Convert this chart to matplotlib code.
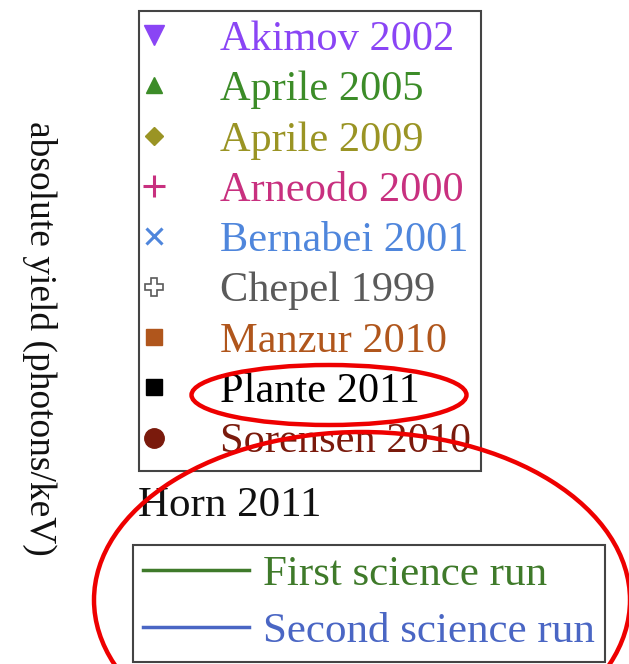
import matplotlib
matplotlib.use("Agg")
import matplotlib.pyplot as plt
from matplotlib.lines import Line2D
from matplotlib.patches import Ellipse

plt.rcParams['font.family'] = ['Liberation Serif', 'DejaVu Serif']

# Legend entries (data sets)
labels = ["Akimov 2002", "Aprile 2005", "Aprile 2009", "Arneodo 2000",
          "Bernabei 2001", "Chepel 1999", "Manzur 2010", "Plante 2011",
          "Sorensen 2010"]
colors = ["#8a45f5", "#3c8c28", "#9a9424", "#c8307f",
          "#4f86dc", "#5a5a5a", "#b0561c", "#000000", "#7a1a0c"]
markers = ["v", "^", "D", "+", "x", "P", "s", "s", "o"]
msizes = [15, 12, 9, 16, 11, 13, 11, 11, 14]

run_labels = ["First science run", "Second science run"]
run_colors = ["#3f7a2a", "#4a66c4"]

group_title = "Horn 2011"
ylabel = "absolute yield (photons/keV)"

W, H = 629, 664
fig = plt.figure(figsize=(W / 100, H / 100), dpi=100)
ax = fig.add_axes([0, 0, 1, 1])
ax.set_xlim(0, W)
ax.set_ylim(H, 0)
ax.axis("off")

handles = []
for c, m, s in zip(colors, markers, msizes):
    if m == "P":
        h = Line2D([], [], linestyle="none", marker=m, markersize=s,
                   markerfacecolor="white", markeredgecolor=c, markeredgewidth=1.2)
    else:
        h = Line2D([], [], linestyle="none", marker=m, markersize=s,
                   color=c, markeredgewidth=2.2 if m in "+x" else 1)
    handles.append(h)

leg1 = ax.legend(handles, labels, loc="upper left",
                 bbox_to_anchor=(139 / W, 1 - 11 / H), bbox_transform=fig.transFigure,
                 borderaxespad=0, borderpad=0.22, handlelength=0.25,
                 handletextpad=1.45, labelspacing=0.275, fontsize=30.5,
                 fancybox=False, framealpha=1, edgecolor="#444444")
leg1.get_frame().set_linewidth(1.5)
for t, c in zip(leg1.get_texts(), colors):
    t.set_color(c)
ax.add_artist(leg1)

ax.text(138, 506, group_title, fontsize=31, va="center", ha="left", color="#111111")

run_handles = [Line2D([], [], color=c, linewidth=2.5) for c in run_colors]
leg2 = ax.legend(run_handles, run_labels, loc="upper left",
                 bbox_to_anchor=(133 / W, 1 - 545 / H), bbox_transform=fig.transFigure,
                 borderaxespad=0, borderpad=0.24, handlelength=2.45,
                 handletextpad=0.33, labelspacing=0.41, fontsize=31,
                 fancybox=False, framealpha=1, edgecolor="#444444")
leg2.get_frame().set_linewidth(1.5)
for t, c in zip(leg2.get_texts(), run_colors):
    t.set_color(c)

fig.text(40 / W, 1 - 338 / H, ylabel, rotation=-90, fontsize=27,
         ha="center", va="center", color="#111111")

# red highlight ellipses (on top of the legends)
ax.add_patch(Ellipse((329, 395), 275, 60, fill=False, edgecolor="#ee0000",
                     linewidth=3.2, zorder=10))
ax.add_patch(Ellipse((362, 600), 536, 336, fill=False, edgecolor="#ee0000",
                     linewidth=3.2, zorder=10))

fig.savefig("out.png", dpi=100)
